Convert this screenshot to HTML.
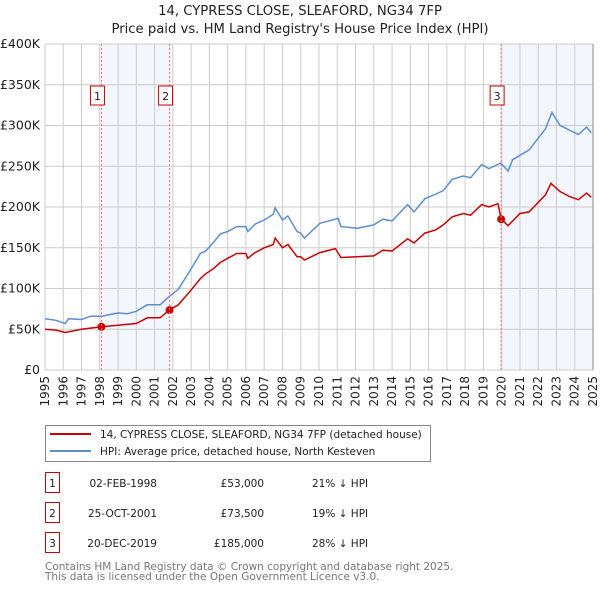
<!DOCTYPE html>
<html><head><meta charset="utf-8"><style>
html,body{margin:0;padding:0;background:#fff}
svg{display:block;font-family:"DejaVu Sans","Liberation Sans",sans-serif}
</style></head><body>
<svg id="c" width="600" height="590" xmlns="http://www.w3.org/2000/svg">
<text x="300" y="15" text-anchor="middle" font-size="13.2" fill="#222">14, CYPRESS CLOSE, SLEAFORD, NG34 7FP</text>
<text x="300" y="33" text-anchor="middle" font-size="13.2" fill="#222">Price paid vs. HM Land Registry's House Price Index (HPI)</text>
<g id="bands"></g><g id="grid"></g><g id="axes"></g><g id="series"></g><g id="marks"></g>
<g>
<rect x="45.5" y="425.5" width="385" height="36" fill="#fff" stroke="#888"/>
<line x1="50" y1="434" x2="91" y2="434" stroke="#cc0000" stroke-width="2"/>
<text x="100" y="438" font-size="10.5" fill="#222">14, CYPRESS CLOSE, SLEAFORD, NG34 7FP (detached house)</text>
<line x1="50" y1="451" x2="91" y2="451" stroke="#5b8fd0" stroke-width="2"/>
<text x="100" y="455" font-size="10.5" fill="#222">HPI: Average price, detached house, North Kesteven</text>
</g>
<g id="table" font-size="10.5" fill="#222"></g>
<text x="45" y="570" font-size="10.5" fill="#777">Contains HM Land Registry data © Crown copyright and database right 2025.</text>
<text x="45" y="580" font-size="10.5" fill="#777">This data is licensed under the Open Government Licence v3.0.</text>
</svg>
<script>
const hpiYears=[1995,1995.6,1996.1,1996.3,1997,1997.5,1998.1,1999,1999.5,2000,2000.6,2001.3,2001.8,2002.3,2003,2003.5,2003.8,2004.2,2004.6,2005,2005.5,2006,2006.1,2006.5,2007,2007.5,2007.6,2008,2008.3,2008.8,2009,2009.2,2010.05,2011.05,2011.2,2012.1,2013,2013.5,2014,2014.85,2015.2,2015.8,2016.4,2016.8,2017.3,2017.9,2018.3,2018.9,2019.3,2019.95,2020.35,2020.6,2021.5,2022.4,2022.75,2023.2,2024.2,2024.65,2024.9];
const hpiValues=[63,61,57,63,62,66,66,70,69,72,80,80,90,99,124,143,146,156,167,170,176,176,170,179,184,191,199,184,189,170,168,162,180,186,176,174,178,185,183,203,194,210,216,220,234,238,236,252,247,254,244,258,270,296,316,300,289,298,291];
const ppYears=[1995,1995.6,1996.1,1997,1998.1,1999,2000,2000.6,2001.3,2001.8,2002.3,2003,2003.5,2003.8,2004.2,2004.6,2005,2005.5,2006,2006.1,2006.5,2007,2007.5,2007.6,2008,2008.3,2008.8,2009,2009.2,2010.05,2010.9,2011.2,2012.1,2013,2013.5,2014,2014.85,2015.2,2015.8,2016.4,2016.8,2017.3,2017.9,2018.3,2018.9,2019.3,2019.8,2019.97,2020.35,2021,2021.5,2022.4,2022.7,2023.2,2023.7,2024.2,2024.65,2024.9];
const ppValues=[50,49,46,50,53,55,57,64,64,73.5,80,98,112,118,124,132,137,143,143,137,144,150,154,162,150,154,139,139,135,144,149,138,139,140,147,146,161,156,168,172,178,188,192,190,203,200,204,185,177,192,194,215,229,219,213,209,217,212];
const saleYears=[1998.09,2001.82,2019.97];
const saleValues=[53,73.5,185];
const saleLabels=["1","2","3"];
const saleDates=["02-FEB-1998","25-OCT-2001","20-DEC-2019"];
const salePrices=["£53,000","£73,500","£185,000"];
const saleDiffs=["21% ↓ HPI","19% ↓ HPI","28% ↓ HPI"];
const yTicks=[0,50,100,150,200,250,300,350,400];
const yTickLabels=["£0","£50K","£100K","£150K","£200K","£250K","£300K","£350K","£400K"];
const xTicks=[1995,1996,1997,1998,1999,2000,2001,2002,2003,2004,2005,2006,2007,2008,2009,2010,2011,2012,2013,2014,2015,2016,2017,2018,2019,2020,2021,2022,2023,2024,2025];
const NS="http://www.w3.org/2000/svg";
const L=45,R=593,T=44,B=370;
const x=y=>L+(y-1995)/30*(R-L);
const y=v=>B-v/400*(B-T);
function mk(p,tag,at){const e=document.createElementNS(NS,tag);for(const k in at)e.setAttribute(k,at[k]);document.getElementById(p).appendChild(e);return e;}
let e;
e=mk('bands','rect',{x:x(saleYears[0]),y:T,width:x(saleYears[1])-x(saleYears[0]),height:B-T,fill:'#eef2fc',opacity:0.7});


e=mk('bands','rect',{x:x(saleYears[2]),y:T,width:R-x(saleYears[2]),height:B-T,fill:'#eef2fc',opacity:0.7});


xTicks.forEach(t=>{e=mk('grid','line',{x1:x(t),x2:x(t),y1:T,y2:B,stroke:'#ccc'});


e=mk('axes','text',{x:0,y:0,'font-size':12,fill:'#222','text-anchor':'end',transform:`translate(${x(t)+4},${B+6}) rotate(-90)`});e.textContent=t;

});
yTicks.forEach((t,i)=>{e=mk('grid','line',{x1:L,x2:R,y1:y(t),y2:y(t),stroke:'#ccc'});


e=mk('axes','text',{x:L-5,y:y(t)+4,'font-size':12.5,fill:'#222','text-anchor':'end'});e.textContent=yTickLabels[i];

});
e=mk('axes','line',{x1:R,x2:R,y1:T,y2:B,stroke:'#888'});


saleYears.forEach((s,i)=>{e=mk('marks','line',{x1:x(s),x2:x(s),y1:T,y2:B,stroke:'#f07070','stroke-dasharray':'2,2','stroke-width':1});


e=mk('marks','rect',{x:x(s)-11,y:86,width:14,height:19,fill:'#fff',stroke:'#cc0000'});


e=mk('marks','text',{x:x(s)-4,y:100,'font-size':11,fill:'#222','text-anchor':'middle'});e.textContent=saleLabels[i];

});
const pts=(xs,vs)=>xs.map((t,i)=>x(t).toFixed(1)+','+y(vs[i]).toFixed(1)).join(' ');
e=mk('series','polyline',{points:pts(hpiYears,hpiValues),fill:'none',stroke:'#5b8fd0','stroke-width':1.5});


e=mk('series','polyline',{points:pts(ppYears,ppValues),fill:'none',stroke:'#cc0000','stroke-width':1.5});


saleYears.forEach((s,i)=>{e=mk('series','circle',{cx:x(s),cy:y(saleValues[i]),r:4,fill:'#cc0000'});

});
saleYears.forEach((s,i)=>{const ry=483+i*30;
e=mk('table','rect',{x:45.5,y:ry-10.5,width:14,height:20,fill:'#fff',stroke:'#cc0000'});


e=mk('table','text',{x:52.5,y:ry+4,'text-anchor':'middle'});e.textContent=saleLabels[i];


e=mk('table','text',{x:157,y:ry+4,'text-anchor':'end'});e.textContent=saleDates[i];


e=mk('table','text',{x:264,y:ry+4,'text-anchor':'end'});e.textContent=salePrices[i];


e=mk('table','text',{x:312,y:ry+4});e.textContent=saleDiffs[i];

});
</script>
</body></html>
